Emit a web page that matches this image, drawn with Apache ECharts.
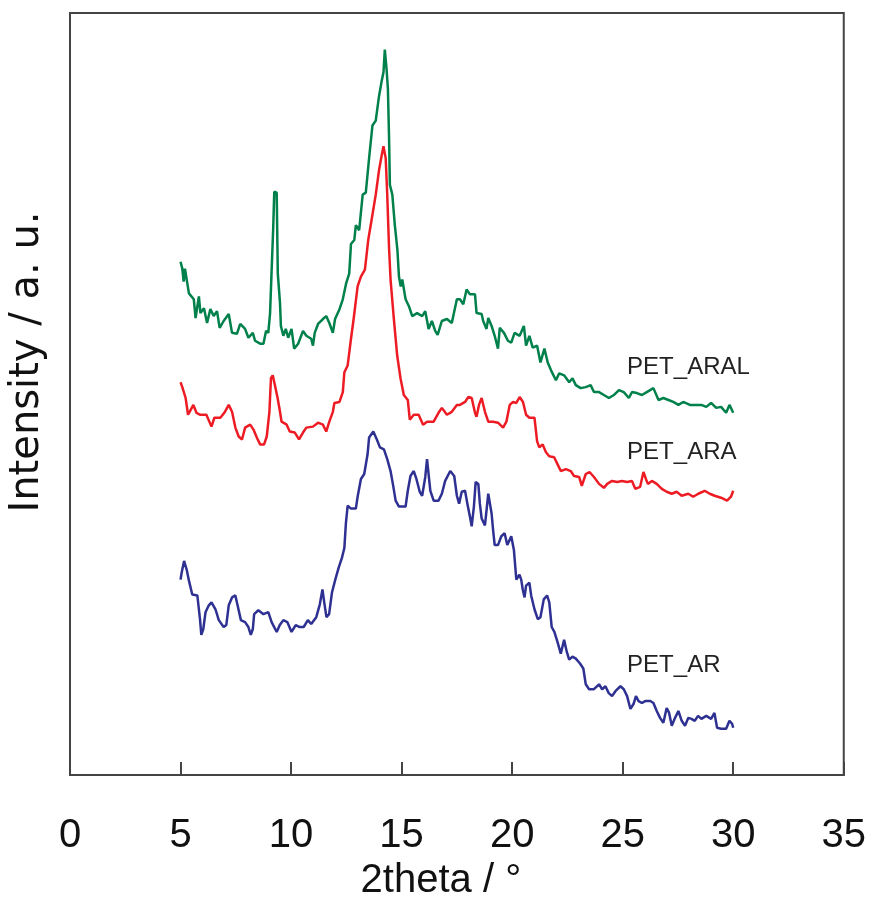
<!DOCTYPE html>
<html>
<head>
<meta charset="utf-8">
<script src="https://cdn.jsdelivr.net/npm/echarts@6/dist/echarts.min.js"></script>
<style>
html,body{margin:0;padding:0;background:#fff;}
#chart{width:869px;height:906px;}
</style>
</head>
<body>
<div id="chart"></div>
<script>
// ---- data: [2theta, intensity (a.u.)] ----
const PET_ARAL = [
[5.00,520],[5.08,513],[5.14,500],[5.20,513],[5.38,488],[5.60,482],[5.68,463],[5.83,485],[5.90,468],[6.06,473],
[6.20,458],[6.35,472],[6.50,465],[6.65,470],[6.77,453],[6.95,460],[7.18,467],[7.33,448],[7.55,447],[7.70,457],
[7.92,452],[8.07,443],[8.27,448],[8.37,440],[8.60,437],[8.75,437],[8.87,450],[8.97,448],[9.05,468],[9.13,517],
[9.19,553],[9.24,591],[9.35,590],[9.40,508],[9.50,478],[9.54,455],[9.65,445],[9.76,452],[9.87,443],[10.02,452],
[10.14,432],[10.32,437],[10.54,450],[10.69,445],[10.91,442],[10.99,435],[11.07,448],[11.22,457],[11.44,462],[11.59,465],
[11.73,458],[11.89,448],[11.99,462],[12.19,472],[12.34,482],[12.49,498],[12.63,508],[12.71,538],[12.86,542],[12.93,557],
[13.08,552],[13.24,588],[13.38,590],[13.53,625],[13.68,658],[13.83,663],[13.98,688],[14.09,702],[14.18,712],[14.24,735],
[14.32,715],[14.38,695],[14.43,648],[14.47,598],[14.58,588],[14.69,558],[14.81,532],[14.88,505],[14.96,495],[15.03,502],
[15.18,482],[15.33,475],[15.48,465],[15.70,468],[15.93,465],[16.07,470],[16.22,452],[16.37,460],[16.52,450],[16.63,446],
[16.82,460],[17.05,462],[17.27,458],[17.50,482],[17.64,482],[17.79,477],[17.94,492],[18.09,487],[18.32,487],[18.39,468],
[18.62,467],[18.69,460],[18.84,452],[18.92,463],[19.07,455],[19.21,445],[19.36,432],[19.44,453],[19.63,448],[19.81,440],
[19.96,438],[20.11,448],[20.34,445],[20.53,455],[20.63,435],[20.78,445],[20.93,433],[21.13,435],[21.28,418],[21.46,432],
[21.61,418],[21.76,410],[21.98,400],[22.13,407],[22.35,405],[22.58,398],[22.73,402],[22.88,395],[23.10,392],[23.33,393],
[23.55,395],[23.70,388],[23.93,388],[24.15,385],[24.38,382],[24.60,385],[24.83,390],[25.05,388],[25.28,382],[25.42,388],
[25.64,387],[25.87,385],[26.09,388],[26.39,392],[26.62,380],[26.84,382],[27.07,380],[27.29,378],[27.52,375],[27.74,378],
[28.04,375],[28.33,375],[28.56,375],[28.78,373],[29.00,377],[29.23,372],[29.45,373],[29.68,367],[29.83,375],[30.00,367]
];
const PET_ARA = [
[5.00,398],[5.08,393],[5.23,382],[5.34,365],[5.46,370],[5.58,375],[5.72,367],[5.90,365],[6.17,365],[6.40,353],
[6.53,362],[6.80,362],[6.98,367],[7.18,375],[7.33,368],[7.48,352],[7.63,343],[7.78,340],[7.92,352],[8.15,355],
[8.30,350],[8.45,342],[8.60,335],[8.78,335],[8.90,343],[9.02,368],[9.09,402],[9.17,405],[9.27,395],[9.39,382],
[9.50,368],[9.57,358],[9.80,355],[9.94,348],[10.17,347],[10.36,340],[10.54,347],[10.69,352],[10.99,353],[11.22,357],
[11.44,355],[11.59,348],[11.73,358],[11.89,368],[11.96,377],[12.19,378],[12.34,388],[12.41,408],[12.56,415],[12.71,442],
[12.83,462],[13.01,495],[13.16,505],[13.34,512],[13.49,542],[13.64,562],[13.83,588],[13.98,613],[14.10,628],[14.18,637],
[14.28,625],[14.35,588],[14.43,535],[14.50,502],[14.65,462],[14.80,425],[14.95,402],[15.10,385],[15.28,380],[15.37,360],
[15.55,365],[15.77,365],[15.97,355],[16.15,358],[16.45,358],[16.67,367],[16.82,372],[17.05,365],[17.27,368],[17.50,375],
[17.64,375],[17.87,378],[18.02,383],[18.17,382],[18.32,367],[18.39,363],[18.50,375],[18.62,382],[18.77,368],[18.92,358],
[19.14,358],[19.36,357],[19.59,352],[19.74,358],[19.89,375],[20.04,378],[20.19,377],[20.34,383],[20.49,378],[20.63,365],
[20.78,362],[21.01,362],[21.13,338],[21.23,332],[21.38,335],[21.53,327],[21.68,323],[21.90,322],[22.05,315],[22.20,308],
[22.43,310],[22.65,308],[22.80,303],[23.03,302],[23.15,293],[23.33,305],[23.50,307],[23.70,302],[23.93,295],[24.15,291],
[24.30,295],[24.52,298],[24.75,297],[24.97,298],[25.20,297],[25.42,298],[25.57,290],[25.79,292],[25.94,307],[26.05,300],
[26.14,295],[26.32,298],[26.54,295],[26.77,290],[26.99,287],[27.22,285],[27.44,287],[27.67,283],[27.97,285],[28.19,282],
[28.42,285],[28.71,288],[28.94,285],[29.16,283],[29.45,281],[29.72,278],[29.90,282],[30.00,288]
];
const PET_AR = [
[5.00,198],[5.05,205],[5.16,217],[5.28,208],[5.38,197],[5.53,183],[5.76,182],[5.88,158],[5.94,142],[6.03,148],
[6.13,165],[6.28,172],[6.40,175],[6.58,168],[6.73,157],[6.95,150],[7.07,152],[7.18,172],[7.33,180],[7.48,182],
[7.58,172],[7.73,157],[7.92,155],[8.07,150],[8.18,142],[8.27,148],[8.33,163],[8.52,167],[8.75,163],[8.97,165],
[9.12,155],[9.35,145],[9.49,152],[9.65,157],[9.83,155],[10.02,145],[10.21,152],[10.39,150],[10.57,150],[10.76,157],
[10.91,153],[11.14,160],[11.30,173],[11.42,188],[11.50,175],[11.60,160],[11.72,163],[11.85,185],[12.00,198],[12.15,210],
[12.30,220],[12.41,230],[12.48,255],[12.56,273],[12.71,270],[12.93,270],[13.01,282],[13.16,300],[13.31,305],[13.46,325],
[13.53,342],[13.72,348],[13.88,340],[14.02,332],[14.20,330],[14.35,320],[14.50,308],[14.62,293],[14.73,278],[14.88,272],
[15.18,272],[15.28,288],[15.40,303],[15.55,308],[15.67,300],[15.82,287],[15.93,283],[16.07,302],[16.15,320],[16.22,305],
[16.30,288],[16.45,278],[16.67,278],[16.82,285],[16.97,298],[17.20,308],[17.38,303],[17.50,283],[17.60,275],[17.72,287],
[17.87,288],[17.99,273],[18.09,262],[18.17,252],[18.27,272],[18.35,297],[18.47,295],[18.54,275],[18.62,260],[18.77,253],
[18.84,255],[18.92,285],[18.99,287],[19.07,265],[19.14,248],[19.21,233],[19.36,233],[19.51,242],[19.66,245],[19.78,233],
[19.96,242],[20.08,228],[20.19,198],[20.33,203],[20.41,198],[20.48,188],[20.56,180],[20.63,192],[20.78,195],[20.86,182],
[21.01,168],[21.16,158],[21.28,160],[21.43,178],[21.58,182],[21.68,175],[21.79,150],[21.91,145],[22.05,135],[22.20,123],
[22.35,137],[22.47,125],[22.58,117],[22.73,120],[22.88,118],[23.07,113],[23.22,108],[23.33,92],[23.48,87],[23.70,87],
[23.93,92],[24.07,87],[24.22,90],[24.37,83],[24.52,80],[24.67,85],[24.90,90],[25.05,87],[25.20,80],[25.35,67],
[25.49,72],[25.60,80],[25.72,75],[25.87,73],[26.02,75],[26.25,75],[26.39,73],[26.54,65],[26.69,58],[26.84,53],
[26.99,68],[27.10,63],[27.22,50],[27.37,58],[27.52,65],[27.67,55],[27.82,50],[27.97,58],[28.11,57],[28.26,55],
[28.41,60],[28.56,57],[28.78,60],[29.00,57],[29.15,63],[29.27,48],[29.45,47],[29.68,47],[29.83,55],[29.95,52],[30.00,48]
];
const seriesNames = ['PET_ARAL', 'PET_ARA', 'PET_AR'];
const labelAnchors = [[25.2, 413], [25.2, 327], [25.2, 111]];
const xTicks = [0, 5, 10, 15, 20, 25, 30, 35];

// ---- chart ----
const colors = ['#00804A', '#ED1C24', '#2E3192'];
const dataSets = [PET_ARAL, PET_ARA, PET_AR];
const axisFont = "'Liberation Sans', Arial, sans-serif";
const chart = echarts.init(document.getElementById('chart'), null, {renderer: 'canvas'});
chart.setOption({
  animation: false,
  backgroundColor: '#ffffff',
  grid: {left: 67, right: 22, top: 13, bottom: 121, show: true, borderColor: '#444', borderWidth: 2, backgroundColor: 'transparent'},
  xAxis: {
    type: 'value', min: xTicks[0], max: xTicks[xTicks.length - 1], interval: 5,
    axisLine: {show: true, lineStyle: {color: '#444', width: 2}},
    axisTick: {show: true, inside: true, length: 13, lineStyle: {color: '#444', width: 2}},
    splitLine: {show: false},
    axisLabel: {color: '#111', fontSize: 40, fontFamily: axisFont, margin: 41},
    name: '2theta / °', nameLocation: 'middle', nameGap: 80,
    nameTextStyle: {color: '#111', fontSize: 40, fontFamily: axisFont, padding: [0, 32, 0, 0]}
  },
  yAxis: {
    type: 'value', min: 0, max: 772,
    axisLine: {show: true, lineStyle: {color: '#444', width: 2}},
    axisTick: {show: false}, axisLabel: {show: false}, splitLine: {show: false},
    name: 'Intensity / a. u.', nameLocation: 'middle', nameGap: 22,
    nameTextStyle: {color: '#111', fontSize: 40, fontFamily: "'DejaVu Sans', 'Liberation Sans', sans-serif", padding: [0, 0, 0, 64]}
  },
  series: dataSets.map((d, i) => ({
    type: 'line', name: seriesNames[i], data: d, showSymbol: false, symbol: 'none',
    lineStyle: {color: colors[i], width: 2.5}, itemStyle: {color: colors[i]},
    markPoint: {
      symbol: 'circle', symbolSize: 0, silent: true,
      data: [{coord: labelAnchors[i], name: seriesNames[i]}],
      label: {show: true, position: 'right', distance: 0, formatter: seriesNames[i],
        color: '#222', fontSize: 24, fontFamily: "'Liberation Sans', Arial, sans-serif"}
    }
  }))
});
</script>
</body>
</html>
